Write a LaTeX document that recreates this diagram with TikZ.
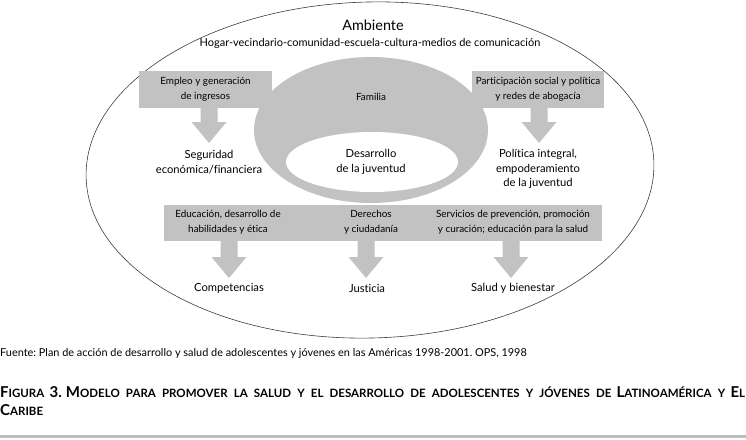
\documentclass[tikz,border=0pt]{standalone}
\usepackage{fontspec}
\setmainfont{Lato}[Ligatures={NoCommon}]
\usetikzlibrary{calc}
\definecolor{boxgray}{RGB}{194,194,194}
\definecolor{linegray}{RGB}{60,60,60}
\definecolor{rulegray}{RGB}{190,190,190}
\tikzset{
  graybox/.style={fill=boxgray, inner sep=0pt, align=center,
    font=\fontsize{9.9}{15}\selectfont},
  boxtext/.style={inner sep=0pt, align=center, font=\fontsize{9.9}{15}\selectfont},
  labeltext/.style={inner sep=0pt, align=center, font=\fontsize{11.2}{14.5}\selectfont},
}
\newcommand\fatarrow[2]{%
  \fill[boxgray] ($(#1)+(-8.5,0)$) -- ($(#1)+(8.5,0)$) -- ($(#2)+(8.5,21)$) --
    ($(#2)+(17.5,21)$) -- (#2) -- ($(#2)+(-17.5,21)$) -- ($(#2)+(-8.5,21)$) -- cycle;}
\newcommand\capbig[1]{{\fontsize{15}{18}\selectfont #1}}
\newcommand\capsm[1]{{\fontsize{11.5}{18}\selectfont #1}}
\begin{document}
\frenchspacing
\begin{tikzpicture}[x=1pt,y=1pt]
\useasboundingbox (0,0) rectangle (746,-439);
% outer ellipse
\draw[linegray, line width=0.6pt, rotate around={1.5:(370,-170)}]
  (370,-170) ellipse [x radius=284, y radius=168];
% family ring
\fill[boxgray] (371,-130) ellipse [x radius=117, y radius=73];
\fill[white] (372,-162) ellipse [x radius=86, y radius=30];
% titles
\node[inner sep=0pt, font=\fontsize{14.4}{16}\selectfont] (amb) at (373,-25) {Ambiente};
\node[inner sep=0pt, font=\fontsize{11}{12}\selectfont] (hog) at (370,-43)
  {Hogar-vecindario-comunidad-escuela-cultura-medios de comunicación};
\node[boxtext] (fam) at (371,-97) {Familia};
\node[labeltext] (des) at (371,-162) {Desarrollo\\de la juventud};
% top boxes
\node[graybox, minimum width=133pt, minimum height=37pt] (emp) at (205.5,-89.5)
  {Empleo y generación\\de ingresos};
\node[graybox, minimum width=132pt, minimum height=37pt] (par) at (538,-89.5)
  {Participación social y política\\y redes de abogacía};
\node[labeltext] (seg) at (209,-162) {Seguridad\\económica/financiera};
\node[labeltext] (pol) at (538,-169) {Política integral,\\empoderamiento\\de la juventud};
\coordinate (t1) at (209,-143);
\coordinate (t2) at (539,-143);
\fatarrow{emp.south -| t1}{t1}
\fatarrow{par.south -| t2}{t2}
% bottom band
\node[graybox, minimum width=438pt, minimum height=36pt] (band) at (383,-223) {};
\node[boxtext] (edu) at (228,-222) {Educación, desarrollo de\\habilidades y ética};
\node[boxtext] (der) at (371,-222) {Derechos\\y ciudadanía};
\node[boxtext] (ser) at (513,-222) {Servicios de prevención, promoción\\y curación; educación para la salud};
\node[labeltext] (com) at (229,-288) {Competencias};
\node[labeltext] (jus) at (367,-288) {Justicia};
\node[labeltext] (sal) at (513,-288) {Salud y bienestar};
\coordinate (t3) at (229,-278);
\coordinate (t4) at (366,-278);
\coordinate (t5) at (511,-278);
\fatarrow{band.south -| t3}{t3}
\fatarrow{band.south -| t4}{t4}
\fatarrow{band.south -| t5}{t5}
% source and caption
\node[anchor=west, inner sep=0pt, font=\fontsize{10.9}{12}\selectfont] (src) at (0,-353)
  {Fuente: Plan de acción de desarrollo y salud de adolescentes y jóvenes en las Américas 1998-2001. OPS, 1998};
\node[anchor=west, inner sep=0pt, font=\bfseries] (cap1) at (0,-392)
  {\makebox[745pt][s]{\capbig{F}\capsm{IGURA} \capbig{3.}\hspace{4pt}\capbig{M}\capsm{ODELO PARA PROMOVER LA SALUD Y EL DESARROLLO DE ADOLESCENTES Y JÓVENES DE} \capbig{L}\capsm{ATINOAMÉRICA Y} \capbig{E}\capsm{L}}};
\node[anchor=west, inner sep=0pt, font=\bfseries] (cap2) at (0,-410)
  {\capbig{C}\capsm{ARIBE}};
\fill[rulegray] (0,-434.5) rectangle (746,-437.5);
\end{tikzpicture}
\end{document}
